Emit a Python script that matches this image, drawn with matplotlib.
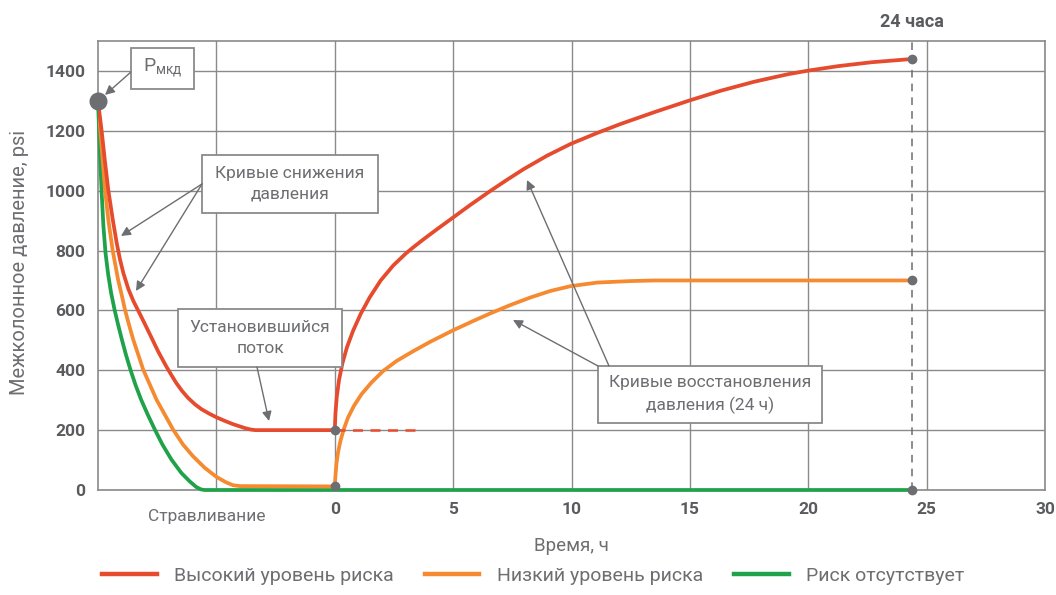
import matplotlib
matplotlib.use("Agg")
import matplotlib.pyplot as plt
from matplotlib import font_manager
from matplotlib.lines import Line2D
from matplotlib.patches import Rectangle

# ---- fonts -------------------------------------------------------------
available = {f.name for f in font_manager.fontManager.ttflist}
family = [f for f in ["Roboto", "DejaVu Sans"] if f in available]
plt.rcParams["font.family"] = family + ["DejaVu Sans"]

# ---- data --------------------------------------------------------------
# Bleed-off (left of t = 0, compressed time scale)
high_bleed_x = [-10, -9.84, -9.71, -9.57, -9.38, -9.21, -9.07, -8.93, -8.72,
                -8.51, -8.23, -7.98, -7.74, -7.46, -7.11, -6.9, -6.69, -6.45,
                -6.2, -5.9, -5.63, -5.3, -5.0, -4.65, -4.3, -3.8, -3.55, -3.35, 0]
high_bleed_y = [1300, 1195, 1100, 1005, 905, 825, 770, 725, 672,
                632, 588, 548, 509, 463, 412, 384, 357, 331,
                308, 286, 270, 255, 243, 231, 220, 207, 202, 200, 200]

low_bleed_x = [-10, -9.9, -9.8, -9.7, -9.56, -9.38, -9.15, -9.0, -8.86, -8.69,
               -8.51, -8.3, -8.09, -7.81, -7.53, -7.18, -6.83, -6.41, -5.99,
               -5.49, -5.0, -4.6, -4.3, -4.0, 0]
low_bleed_y = [1300, 1200, 1100, 1000, 900, 800, 702, 652, 602, 552,
               502, 452, 402, 352, 302, 252, 202, 152, 113,
               74, 44, 26, 16, 13, 12]

none_x = [-10, -9.93, -9.85, -9.77, -9.68, -9.57, -9.45, -9.3, -9.15, -8.99,
          -8.82, -8.63, -8.42, -8.18, -7.9, -7.6, -7.28, -6.9, -6.48, -6.13,
          -5.85, -5.65, -5.5, 24.4]
none_y = [1300, 1150, 1000, 880, 790, 720, 660, 602, 552, 502,
          452, 402, 352, 302, 252, 202, 152, 102, 57, 29,
          10, 2, 0, 0]

# Build-up over 24 hours
high_build_x = [0, 0.03, 0.085, 0.18, 0.32, 0.52, 0.78, 1.1, 1.48, 1.94, 2.47,
                3.0, 3.32, 3.74, 4.35, 5.01, 5.72, 6.57, 7.27, 7.98, 8.97,
                9.96, 11.09, 12.08, 13.49, 14.97, 16.31, 17.72, 19.14, 19.99,
                21.26, 22.67, 24.4]
high_build_y = [200, 256, 311, 367, 422, 478, 533, 589, 644, 700, 750,
                790, 811, 837, 873, 911, 952, 999, 1036, 1072, 1117,
                1156, 1193, 1223, 1262, 1301, 1334, 1364, 1389, 1401,
                1416, 1429, 1440]

low_build_x = [0, 0.03, 0.07, 0.14, 0.24, 0.38, 0.56, 0.81, 1.13, 1.55, 2.05,
               2.61, 3.32, 4.03, 5.01, 5.86, 6.57, 7.42, 8.26, 9.11, 9.96,
               11.09, 12.5, 13.5, 24.4]
low_build_y = [12, 48, 87, 126, 164, 203, 242, 281, 320, 359, 398,
               431, 464, 495, 534, 565, 590, 618, 643, 665, 681,
               693, 698, 700, 700]

steady_x = [0, 3.44]
steady_y = [200, 200]

end_time = 24.4
p_start = 1300

x_ticks = [-5, 0, 5, 10, 15, 20, 25, 30]
x_tick_labels = ["", "0", "5", "10", "15", "20", "25", "30"]
y_ticks = [0, 200, 400, 600, 800, 1000, 1200, 1400]

series_names = ["Высокий уровень риска", "Низкий уровень риска", "Риск отсутствует"]

# ---- style -------------------------------------------------------------
RED = "#e64b2e"
ORANGE = "#f58a30"
GREEN = "#1fa24a"
GRID = "#8a8a8a"
TEXT = "#6d6e71"
TICK = "#5a5b5e"
DOT = "#6d6e71"

W, H = 1056, 595
fig = plt.figure(figsize=(W / 100, H / 100), dpi=100)
ax = fig.add_axes([98 / W, 1 - 490 / H, (1045 - 98) / W, (490 - 41) / H])

ax.set_xlim(-10, 30)
ax.set_ylim(0, 1500)
ax.set_xticks(x_ticks)
ax.set_xticklabels(x_tick_labels)
ax.set_yticks(y_ticks)
ax.grid(True, color=GRID, linewidth=1.0)
ax.set_axisbelow(True)
for s in ax.spines.values():
    s.set_color(GRID)
    s.set_linewidth(1.2)
ax.tick_params(length=0, pad=9, labelsize=12.5, colors=TICK)
for lab in ax.get_xticklabels() + ax.get_yticklabels():
    lab.set_fontweight("bold")

lw = 2.7
common = dict(lw=lw, solid_joinstyle="round", solid_capstyle="butt")
ax.plot(none_x, none_y, color=GREEN, zorder=3, clip_on=False, **common)
ax.plot(low_bleed_x, low_bleed_y, color=ORANGE, zorder=4, **common)
ax.plot(high_bleed_x, high_bleed_y, color=RED, zorder=5, **common)
ax.plot(low_build_x, low_build_y, color=ORANGE, zorder=4, **common)
ax.plot(high_build_x, high_build_y, color=RED, zorder=5, **common)
ax.plot(steady_x, steady_y, color=RED, lw=1.8, ls=(0, (4, 3)), zorder=5)

# 24-hour marker line
ax.axvline(end_time, color=DOT, lw=1.1, ls=(0, (5, 4)), zorder=2)
ax.text(end_time, 1564, "24 часа", ha="center", va="center", fontsize=13,
        fontweight="bold", color=TICK, clip_on=False)

# points
ax.plot([0, 0], [high_bleed_y[-1], low_bleed_y[-1]], "o", color=DOT, ms=6, zorder=7)
ax.plot([end_time] * 3, [high_build_y[-1], low_build_y[-1], none_y[-1]], "o",
        color=DOT, ms=6, zorder=7, clip_on=False)
ax.plot([-10], [p_start], "o", color=DOT, ms=12, zorder=8, clip_on=False)

# ---- annotation boxes ---------------------------------------------------
def px2data(px, py):
    return -10 + (px - 98) / 23.675, (490 - py) / 0.2993


def box(px0, py0, px1, py1):
    x0, y1 = px2data(px0, py0)
    x1, y0 = px2data(px1, py1)
    ax.add_patch(Rectangle((x0, y0), x1 - x0, y1 - y0, facecolor="white",
                           edgecolor=GRID, lw=1.3, zorder=9, clip_on=False))
    return (x0 + x1) / 2, (y0 + y1) / 2


def arrow(p_from, p_to):
    ax.annotate("", xy=px2data(*p_to), xytext=px2data(*p_from),
                arrowprops=dict(arrowstyle="-|>", color=TEXT, lw=1.0,
                                mutation_scale=14, shrinkA=0, shrinkB=0),
                zorder=10)


cx, cy = box(131, 48, 194, 89)
ax.text(cx, cy, r"P$_{\mathregular{мкд}}$", ha="center", va="center",
        fontsize=14, color=TEXT, zorder=11)
arrow((131, 72), (105, 95))

cx, cy = box(202, 155, 378, 213)
ax.text(cx, cy, "Кривые снижения\nдавления", ha="center", va="center",
        fontsize=12.5, color=TEXT, zorder=11, linespacing=1.5)
arrow((202, 184), (121, 236))
arrow((202, 184), (136, 291))

cx, cy = box(178, 309, 342, 367)
ax.text(cx, cy, "Установившийся\nпоток", ha="center", va="center",
        fontsize=12.5, color=TEXT, zorder=11, linespacing=1.5)
arrow((257, 367), (269, 421))

arrow((598, 366), (513, 320))
arrow((609, 366), (527, 180))
cx, cy = box(598, 366, 822, 423)
ax.text(cx, cy, "Кривые восстановления\nдавления (24 ч)", ha="center",
        va="center", fontsize=12.5, color=TEXT, zorder=11, linespacing=1.5)

# ---- labels -------------------------------------------------------------
ax.text(-5.4, -0.06, "Стравливание", transform=ax.get_xaxis_transform(),
        ha="center", va="center", fontsize=12.5, color=TEXT)
ax.set_xlabel("Время, ч", fontsize=13.5, color=TEXT)
ax.xaxis.set_label_coords(0.5, -0.105)
ax.set_ylabel("Межколонное давление, psi", fontsize=14.5, color=TEXT,
              va="center")
ax.yaxis.set_label_coords(-0.083, 0.507)

handles = [Line2D([], [], color=c, lw=3.2) for c in (RED, ORANGE, GREEN)]
leg = fig.legend(handles, series_names, loc="lower center", ncol=3,
                 bbox_to_anchor=(0.505, -0.012), frameon=False, fontsize=14,
                 handlelength=2.8, handletextpad=0.9, columnspacing=1.6)
for t in leg.get_texts():
    t.set_color(TEXT)

fig.savefig("out.png", dpi=100)
